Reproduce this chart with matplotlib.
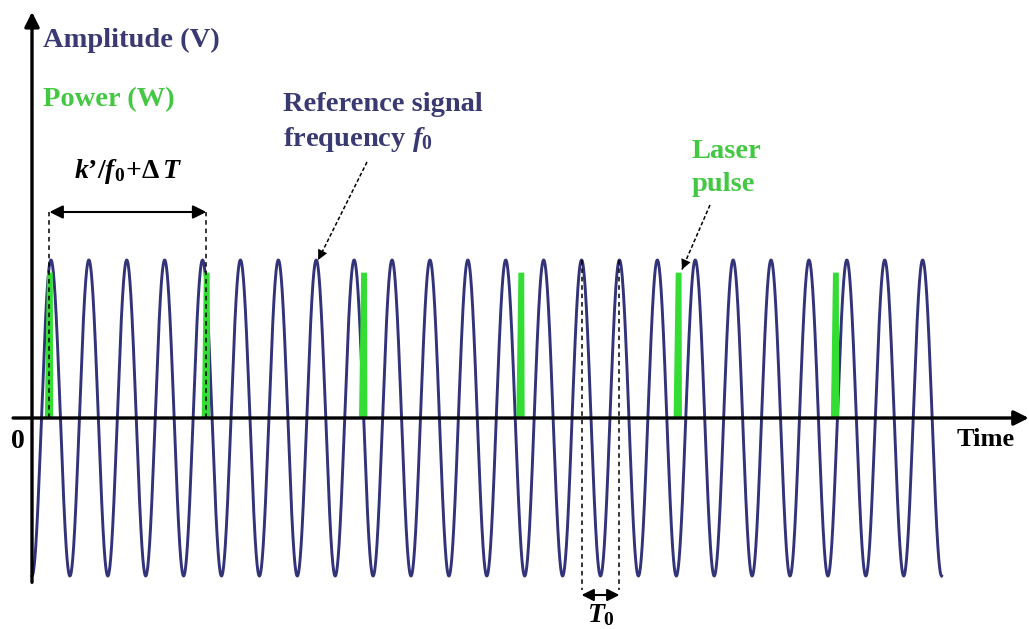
import numpy as np
import matplotlib
matplotlib.use("Agg")
import matplotlib.pyplot as plt
from matplotlib.patches import Polygon

# ---------------- data ----------------
f0 = 1.0                     # reference frequency (T0 = 1)
n_periods = 24               # periods of reference signal shown
amplitude = 1.0
pulse_times = [0.46, 4.60, 8.75, 12.90, 17.05, 21.20]   # laser pulse positions (in T0)
pulse_height = 0.92
pulse_width = 0.22
k_marks = [0.46, 4.60]       # k'/f0 + dT interval
T0_marks = [14.5, 15.5]      # one period interval

# ---------------- style ----------------
plt.rcParams['font.family'] = ['Liberation Serif', 'DejaVu Serif']
plt.rcParams['mathtext.fontset'] = 'custom'
plt.rcParams['mathtext.rm'] = 'Liberation Serif:bold'
plt.rcParams['mathtext.it'] = 'Liberation Serif:bold:italic'
plt.rcParams['mathtext.bf'] = 'Liberation Serif:bold'

NAVY = '#3a3a72'
WAVE = '#33337a'
GREEN = '#33dd33'
GTEXT = '#44c844'

fig = plt.figure(figsize=(10.29, 6.29), dpi=100)
ax = fig.add_axes([0, 0, 1, 1])
px = 37.9   # pixels per period
py = 158.0  # pixels per amplitude unit
ax.set_xlim(-32 / px, (1029 - 32) / px)
ax.set_ylim(-(629 - 418) / py, 418 / py)
ax.axis('off')

# reference signal
t = np.linspace(0, n_periods / f0, 6000)
ax.plot(t, -amplitude * np.cos(2 * np.pi * f0 * t), color=WAVE, lw=2.1, zorder=3)

# laser pulses
for tp in pulse_times:
    poly = Polygon([(tp - pulse_width * 0.55, 0), (tp + pulse_width * 0.45, 0),
                    (tp + pulse_width * 0.4, pulse_height),
                    (tp - pulse_width * 0.3, pulse_height)],
                   closed=True, facecolor=GREEN, edgecolor='none', zorder=4)
    ax.add_patch(poly)

# axes arrows
ax.annotate('', xy=(0, 2.57), xytext=(0, -1.04),
            arrowprops=dict(arrowstyle='-|>', lw=2.4, color='black',
                            mutation_scale=22, shrinkA=0, shrinkB=0), zorder=5)
ax.annotate('', xy=(26.3, 0), xytext=(-0.5, 0),
            arrowprops=dict(arrowstyle='-|>', lw=2.4, color='black',
                            mutation_scale=22, shrinkA=0, shrinkB=0), zorder=5)

# k'/f0 + dT marker
yk = (418 - 212) / py
for xm in k_marks:
    ax.plot([xm, xm], [0, yk], color='black', lw=1.1, ls=(0, (3, 2.5)), zorder=5)
ax.annotate('', xy=(k_marks[1], yk), xytext=(k_marks[0], yk),
            arrowprops=dict(arrowstyle='<|-|>', lw=1.5, color='black',
                            mutation_scale=20, shrinkA=0, shrinkB=0), zorder=5)
ax.text(sum(k_marks) / 2, (418 - 172) / py, "$k’/f_0\\!+\\!\\Delta\\, T$",
        ha='center', va='center', fontsize=20, color='black')

# T0 marker
yT = (418 - 595) / py
for xm in T0_marks:
    ax.plot([xm, xm], [amplitude, (418 - 590) / py], color='black', lw=1.1,
            ls=(0, (3, 2.5)), zorder=5)
ax.annotate('', xy=(T0_marks[1], yT), xytext=(T0_marks[0], yT),
            arrowprops=dict(arrowstyle='<|-|>', lw=1.5, color='black',
                            mutation_scale=18, shrinkA=0, shrinkB=0), zorder=5)
ax.text(sum(T0_marks) / 2, (418 - 602) / py, "$T_0$", ha='center', va='top',
        fontsize=20, color='black')

# labels
FS = 20.5
ax.text(0.29, (418 - 40) / py, "Amplitude (V)", ha='left', va='center',
        fontsize=FS, fontweight='bold', color=NAVY)
ax.text(0.29, (418 - 100) / py, "Power (W)", ha='left', va='center',
        fontsize=FS, fontweight='bold', color=GTEXT)
ax.text(6.62, (418 - 105) / py, "Reference signal", ha='left', va='center',
        fontsize=FS, fontweight='bold', color=NAVY)
ax.text(6.62, (418 - 140) / py, "frequency $f_0$", ha='left', va='center',
        fontsize=FS, fontweight='bold', color=NAVY)
ax.text(17.41, (418 - 152) / py, "Laser", ha='left', va='center',
        fontsize=FS, fontweight='bold', color=GTEXT)
ax.text(17.41, (418 - 185) / py, "pulse", ha='left', va='center',
        fontsize=FS, fontweight='bold', color=GTEXT)
ax.text(24.4, (418 - 440) / py, "Time", ha='left', va='center',
        fontsize=19, fontweight='bold', color='black')
ax.text(-0.37, (418 - 442) / py, "0", ha='center', va='center',
        fontsize=20, fontweight='bold', color='black')

# annotation arrows (dashed shaft + solid head)
def dashed_arrow(x0, y0, x1, y1):
    ax.plot([x0, x1], [y0, y1], color='black', lw=1.1, ls=(0, (2.5, 1.5)), zorder=6)
    dx, dy = x1 - x0, y1 - y0
    ax.annotate('', xy=(x1, y1), xytext=(x1 - 0.25 * dx, y1 - 0.25 * dy),
                arrowprops=dict(arrowstyle='-|>', lw=0.01, color='black',
                                mutation_scale=18, shrinkA=0, shrinkB=0), zorder=6)

dashed_arrow((367 - 32) / px, (418 - 162) / py, 7.55, 1.0)
dashed_arrow((710 - 32) / px, (418 - 205) / py, 17.15, 0.94)

fig.savefig('out.png', dpi=100, facecolor='white')
